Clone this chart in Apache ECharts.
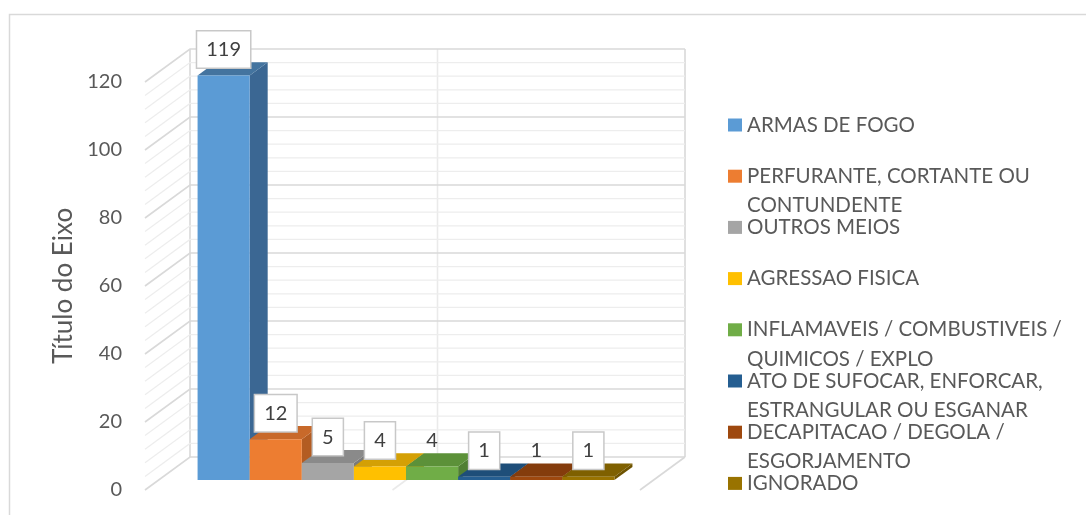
<!DOCTYPE html>
<html>
<head>
<meta charset="utf-8">
<script src="https://cdn.jsdelivr.net/npm/echarts@6/dist/echarts.min.js"></script>
<style>
  html, body { margin: 0; padding: 0; background: #ffffff; }
  #chart { width: 1086px; height: 515px; }
</style>
</head>
<body>
<div id="chart"></div>
<script>
// Meios utilizados: categorias (com quebra de linha da legenda) e totais
const categories = [
  'ARMAS DE FOGO',
  'PERFURANTE, CORTANTE OU\nCONTUNDENTE',
  'OUTROS MEIOS',
  'AGRESSAO FISICA',
  'INFLAMAVEIS / COMBUSTIVEIS /\nQUIMICOS / EXPLO',
  'ATO DE SUFOCAR, ENFORCAR,\nESTRANGULAR OU ESGANAR',
  'DECAPITACAO / DEGOLA /\nESGORJAMENTO',
  'IGNORADO'
];
const values = [119, 12, 5, 4, 4, 1, 1, 1];
const yTicks = [0, 20, 40, 60, 80, 100, 120];
const axisTitle = 'Título do Eixo';

// Cores: face frontal, topo e lateral de cada coluna
const frontColors = ['#5B9BD5', '#ED7D31', '#A5A5A5', '#FFC000', '#70AD47', '#255E91', '#9E480E', '#997300'];
const topColors   = ['#44749F', '#C8692A', '#8A8A8A', '#D4A005', '#5C9139', '#1E4E79', '#843C0C', '#7F6000'];
const sideColors  = ['#3B6793', '#B35C22', '#7A7A7A', '#BF9000', '#507F32', '#1A4369', '#73340A', '#6E5300'];
const labelBoxed  = [true, true, true, true, false, true, false, true];

// Projeção oblíqua da caixa 3D (profundidade total e faixa ocupada pelas colunas)
const DX = 45, DY = -33;
const F_FRONT = 0.30, F_DEPTH = 0.40;
const FONT = 'Lato, "Noto Sans", sans-serif';
const LINE_H = 29.5;
const LEGEND_STEP = 51.2;

// Linhas de grade (principais + secundárias a cada 1/5 do intervalo)
const gridValues = [];
for (let k = 0; k < yTicks.length; k++) {
  gridValues.push(yTicks[k]);
  if (k < yTicks.length - 1) {
    const step = (yTicks[k + 1] - yTicks[k]) / 5;
    for (let m = 1; m < 5; m++) gridValues.push(yTicks[k] + m * step);
  }
}

function renderWalls(params, api) {
  const cs = params.coordSys;
  const v = api.value(1);
  const y = api.coord([0, v])[1];
  const L = cs.x, R = cs.x + cs.width;
  const major = yTicks.indexOf(v) >= 0;
  const children = [{
    type: 'polyline',
    silent: true,
    shape: { points: [[L, y], [L + DX, y + DY], [R + DX, y + DY]] },
    style: { fill: 'none', stroke: major ? '#D9D9D9' : '#EDEDED', lineWidth: major ? 1.6 : 1.2 }
  }];
  if (params.dataIndex === 0) {
    const y0 = api.coord([0, yTicks[0]])[1];
    const yMax = api.coord([0, yTicks[yTicks.length - 1]])[1];
    const M = (L + R) / 2;
    const seg = (pts, color) => ({
      type: 'polyline', silent: true, shape: { points: pts },
      style: { fill: 'none', stroke: color, lineWidth: 1.6 }
    });
    children.push(seg([[L + DX, y0 + DY], [L + DX, yMax + DY]], '#D9D9D9'));
    children.push(seg([[R + DX, y0 + DY], [R + DX, yMax + DY]], '#D9D9D9'));
    children.push(seg([[M + DX, y0 + DY], [M + DX, yMax + DY]], '#EAEAEA'));
    children.push(seg([[M, y0], [M + DX, y0 + DY]], '#EAEAEA'));
    children.push(seg([[R, y0], [R + DX, y0 + DY]], '#D9D9D9'));
  }
  return { type: 'group', children };
}

function makeBarRenderer(i) {
  return function (params, api) {
    const n = categories.length;
    const v = api.value(1);
    const c = api.coord([0, v]);
    const base = api.coord([0, 0]);
    const band = api.size([1, 0])[0];
    const bw = band / (n + 1.5);
    const fx = DX * F_FRONT, fy = DY * F_FRONT;
    const ddx = DX * F_DEPTH, ddy = DY * F_DEPTH;
    const x0 = c[0] - (n * bw) / 2 + i * bw + fx;
    const x1 = x0 + bw;
    const yTop = c[1] + fy;
    const yBase = base[1] + fy;
    const boxed = labelBoxed[i];
    return {
      type: 'group',
      children: [
        {
          type: 'polygon',
          shape: { points: [[x1, yTop], [x1 + ddx, yTop + ddy], [x1 + ddx, yBase + ddy], [x1, yBase]] },
          style: { fill: sideColors[i] }
        },
        {
          type: 'polygon',
          shape: { points: [[x0, yTop], [x1, yTop], [x1 + ddx, yTop + ddy], [x0 + ddx, yTop + ddy]] },
          style: { fill: topColors[i] }
        },
        {
          type: 'rect',
          shape: { x: x0, y: yTop, width: bw, height: yBase - yTop },
          style: { fill: frontColors[i] }
        },
        {
          type: 'text',
          z2: 50,
          x: (x0 + x1) / 2,
          y: yTop - 8,
          style: {
            text: String(v),
            fill: '#404040',
            fontSize: 20,
            fontFamily: FONT,
            align: 'center',
            verticalAlign: 'bottom',
            backgroundColor: boxed ? '#FFFFFF' : null,
            borderColor: boxed ? '#C8C8C8' : null,
            borderWidth: boxed ? 1.5 : 0,
            padding: [8, 9, 8, 9]
          }
        }
      ]
    };
  };
}

const series = [{
  type: 'custom',
  name: 'grade',
  silent: true,
  z: 1,
  renderItem: renderWalls,
  encode: { x: 0, y: 1 },
  data: gridValues.map(v => [0, v])
}];
categories.forEach((name, i) => {
  series.push({
    type: 'custom',
    name: name,
    z: 2,
    color: frontColors[i],
    renderItem: makeBarRenderer(i),
    encode: { x: 0, y: 1 },
    data: [[0, values[i]]]
  });
});

// Cada item da legenda ocupa três linhas; a primeira linha do texto fica alinhada ao ícone
const legendFormatter = name => '\n' + name + (name.indexOf('\n') >= 0 ? '' : '\n');

const chart = echarts.init(document.getElementById('chart'), null, { renderer: 'canvas' });
chart.setOption({
  animation: false,
  backgroundColor: '#FFFFFF',
  graphic: [{
    type: 'rect',
    left: 7, top: 12,
    shape: { width: 1120, height: 540 },
    style: { fill: 'none', stroke: '#D9D9D9', lineWidth: 1.5 },
    silent: true, z: -1
  }],
  grid: { left: 145, top: 82, width: 495, height: 408 },
  xAxis: {
    type: 'category',
    data: [''],
    axisLine: { show: false },
    axisTick: { show: false },
    axisLabel: { show: false },
    splitLine: { show: false }
  },
  yAxis: {
    type: 'value',
    min: 0, max: 120, interval: 20,
    axisLine: { show: false },
    axisTick: { show: false },
    splitLine: { show: false },
    axisLabel: { color: '#595959', fontSize: 20, fontFamily: FONT, margin: 23 },
    name: axisTitle,
    nameLocation: 'middle',
    nameRotate: 90,
    nameGap: 68,
    nameTextStyle: { color: '#595959', fontSize: 26, fontFamily: FONT }
  },
  legend: {
    orient: 'vertical',
    left: 728,
    top: 125 - 1.5 * LINE_H,
    height: 480,
    padding: 0,
    icon: 'rect',
    itemWidth: 14,
    itemHeight: 13,
    itemGap: LEGEND_STEP - 3 * LINE_H,
    selectedMode: false,
    formatter: legendFormatter,
    textStyle: {
      color: '#595959', fontSize: 20.5, fontFamily: FONT, lineHeight: LINE_H,
      backgroundColor: 'rgba(255,255,255,0)'
    },
    data: categories
  },
  series: series
});
</script>
</body>
</html>
